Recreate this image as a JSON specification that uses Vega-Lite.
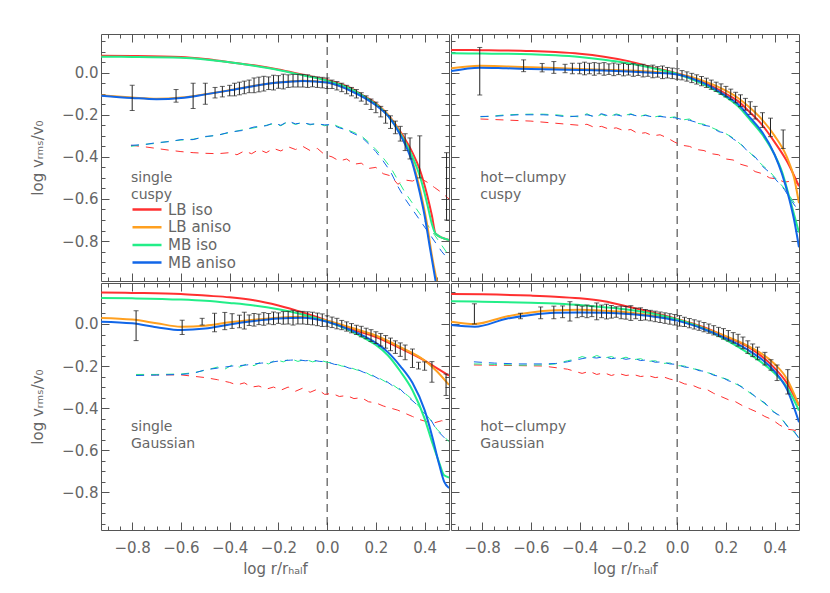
{
"$schema": "https://vega.github.io/schema/vega-lite/v6.json",
"background": "white",
"padding": {"left": 30, "top": 33, "right": 0, "bottom": 0},
"columns": 2,
"spacing": 0,
"resolve": {"scale": {"color": "independent"}, "legend": {"color": "independent"}},
"config": {
  "view": {"stroke": "#555", "strokeWidth": 1},
  "axis": {"grid": false, "domain": false, "tickColor": "#555", "tickWidth": 1, "labelColor": "#666", "titleColor": "#666", "labelFont": "DejaVu Sans", "titleFont": "DejaVu Sans", "labelFontSize": 15, "titleFontSize": 15, "titleFontWeight": "normal"}
},
"datasets": {
"labels": [{"p":"sc","t":"single\ncuspy"},{"p":"hc","t":"hot−clumpy\ncuspy"},{"p":"sg","t":"single\nGaussian"},{"p":"hg","t":"hot−clumpy\nGaussian"}],
"solid": [
{"p":"sc","m":"LB iso","x":-0.927,"y":0.081},{"p":"sc","m":"LB iso","x":-0.8,"y":0.08},{"p":"sc","m":"LB iso","x":-0.6,"y":0.075},{"p":"sc","m":"LB iso","x":-0.5,"y":0.065},{"p":"sc","m":"LB iso","x":-0.4,"y":0.05},{"p":"sc","m":"LB iso","x":-0.3,"y":0.035},{"p":"sc","m":"LB iso","x":-0.2,"y":0.015},{"p":"sc","m":"LB iso","x":-0.1,"y":-0.01},{"p":"sc","m":"LB iso","x":0,"y":-0.035},{"p":"sc","m":"LB iso","x":0.1,"y":-0.075},{"p":"sc","m":"LB iso","x":0.15,"y":-0.11},{"p":"sc","m":"LB iso","x":0.2,"y":-0.145},{"p":"sc","m":"LB iso","x":0.25,"y":-0.2},{"p":"sc","m":"LB iso","x":0.3,"y":-0.28},{"p":"sc","m":"LB iso","x":0.35,"y":-0.38},{"p":"sc","m":"LB iso","x":0.38,"y":-0.46},{"p":"sc","m":"LB iso","x":0.41,"y":-0.58},{"p":"sc","m":"LB iso","x":0.43,"y":-0.68},{"p":"sc","m":"LB iso","x":0.445,"y":-0.765},{"p":"sc","m":"LB iso","x":0.5,"y":-0.795},
{"p":"sc","m":"LB aniso","x":-0.927,"y":-0.108},{"p":"sc","m":"LB aniso","x":-0.8,"y":-0.118},{"p":"sc","m":"LB aniso","x":-0.7,"y":-0.124},{"p":"sc","m":"LB aniso","x":-0.6,"y":-0.118},{"p":"sc","m":"LB aniso","x":-0.5,"y":-0.102},{"p":"sc","m":"LB aniso","x":-0.4,"y":-0.083},{"p":"sc","m":"LB aniso","x":-0.3,"y":-0.062},{"p":"sc","m":"LB aniso","x":-0.2,"y":-0.046},{"p":"sc","m":"LB aniso","x":-0.1,"y":-0.038},{"p":"sc","m":"LB aniso","x":0,"y":-0.046},{"p":"sc","m":"LB aniso","x":0.1,"y":-0.085},{"p":"sc","m":"LB aniso","x":0.2,"y":-0.15},{"p":"sc","m":"LB aniso","x":0.25,"y":-0.2},{"p":"sc","m":"LB aniso","x":0.3,"y":-0.285},{"p":"sc","m":"LB aniso","x":0.35,"y":-0.42},{"p":"sc","m":"LB aniso","x":0.38,"y":-0.55},{"p":"sc","m":"LB aniso","x":0.41,"y":-0.72},{"p":"sc","m":"LB aniso","x":0.43,"y":-0.87},{"p":"sc","m":"LB aniso","x":0.45,"y":-0.99},
{"p":"sc","m":"MB iso","x":-0.927,"y":0.076},{"p":"sc","m":"MB iso","x":-0.8,"y":0.075},{"p":"sc","m":"MB iso","x":-0.6,"y":0.071},{"p":"sc","m":"MB iso","x":-0.5,"y":0.063},{"p":"sc","m":"MB iso","x":-0.4,"y":0.05},{"p":"sc","m":"MB iso","x":-0.3,"y":0.033},{"p":"sc","m":"MB iso","x":-0.2,"y":0.013},{"p":"sc","m":"MB iso","x":-0.1,"y":-0.012},{"p":"sc","m":"MB iso","x":0,"y":-0.038},{"p":"sc","m":"MB iso","x":0.1,"y":-0.078},{"p":"sc","m":"MB iso","x":0.15,"y":-0.112},{"p":"sc","m":"MB iso","x":0.2,"y":-0.15},{"p":"sc","m":"MB iso","x":0.25,"y":-0.205},{"p":"sc","m":"MB iso","x":0.3,"y":-0.29},{"p":"sc","m":"MB iso","x":0.35,"y":-0.4},{"p":"sc","m":"MB iso","x":0.38,"y":-0.49},{"p":"sc","m":"MB iso","x":0.41,"y":-0.62},{"p":"sc","m":"MB iso","x":0.43,"y":-0.72},{"p":"sc","m":"MB iso","x":0.445,"y":-0.765},{"p":"sc","m":"MB iso","x":0.5,"y":-0.795},
{"p":"sc","m":"MB aniso","x":-0.927,"y":-0.109},{"p":"sc","m":"MB aniso","x":-0.8,"y":-0.12},{"p":"sc","m":"MB aniso","x":-0.7,"y":-0.126},{"p":"sc","m":"MB aniso","x":-0.6,"y":-0.12},{"p":"sc","m":"MB aniso","x":-0.5,"y":-0.103},{"p":"sc","m":"MB aniso","x":-0.4,"y":-0.084},{"p":"sc","m":"MB aniso","x":-0.3,"y":-0.063},{"p":"sc","m":"MB aniso","x":-0.2,"y":-0.047},{"p":"sc","m":"MB aniso","x":-0.1,"y":-0.039},{"p":"sc","m":"MB aniso","x":0,"y":-0.047},{"p":"sc","m":"MB aniso","x":0.1,"y":-0.088},{"p":"sc","m":"MB aniso","x":0.2,"y":-0.155},{"p":"sc","m":"MB aniso","x":0.25,"y":-0.205},{"p":"sc","m":"MB aniso","x":0.3,"y":-0.295},{"p":"sc","m":"MB aniso","x":0.35,"y":-0.43},{"p":"sc","m":"MB aniso","x":0.38,"y":-0.57},{"p":"sc","m":"MB aniso","x":0.4,"y":-0.68},{"p":"sc","m":"MB aniso","x":0.42,"y":-0.82},{"p":"sc","m":"MB aniso","x":0.445,"y":-0.99},

{"p":"hc","m":"LB iso","x":-0.927,"y":0.108},{"p":"hc","m":"LB iso","x":-0.8,"y":0.107},{"p":"hc","m":"LB iso","x":-0.6,"y":0.103},{"p":"hc","m":"LB iso","x":-0.5,"y":0.098},{"p":"hc","m":"LB iso","x":-0.4,"y":0.09},{"p":"hc","m":"LB iso","x":-0.3,"y":0.076},{"p":"hc","m":"LB iso","x":-0.2,"y":0.055},{"p":"hc","m":"LB iso","x":-0.1,"y":0.025},{"p":"hc","m":"LB iso","x":0,"y":-0.003},{"p":"hc","m":"LB iso","x":0.1,"y":-0.04},{"p":"hc","m":"LB iso","x":0.2,"y":-0.1},{"p":"hc","m":"LB iso","x":0.25,"y":-0.135},{"p":"hc","m":"LB iso","x":0.3,"y":-0.19},{"p":"hc","m":"LB iso","x":0.35,"y":-0.25},{"p":"hc","m":"LB iso","x":0.4,"y":-0.33},{"p":"hc","m":"LB iso","x":0.45,"y":-0.42},{"p":"hc","m":"LB iso","x":0.5,"y":-0.54},
{"p":"hc","m":"LB aniso","x":-0.927,"y":0.021},{"p":"hc","m":"LB aniso","x":-0.81,"y":0.033},{"p":"hc","m":"LB aniso","x":-0.7,"y":0.03},{"p":"hc","m":"LB aniso","x":-0.6,"y":0.026},{"p":"hc","m":"LB aniso","x":-0.5,"y":0.022},{"p":"hc","m":"LB aniso","x":-0.4,"y":0.018},{"p":"hc","m":"LB aniso","x":-0.3,"y":0.014},{"p":"hc","m":"LB aniso","x":-0.2,"y":0.01},{"p":"hc","m":"LB aniso","x":-0.1,"y":0.004},{"p":"hc","m":"LB aniso","x":0,"y":-0.006},{"p":"hc","m":"LB aniso","x":0.1,"y":-0.035},{"p":"hc","m":"LB aniso","x":0.2,"y":-0.085},{"p":"hc","m":"LB aniso","x":0.25,"y":-0.12},{"p":"hc","m":"LB aniso","x":0.3,"y":-0.168},{"p":"hc","m":"LB aniso","x":0.35,"y":-0.225},{"p":"hc","m":"LB aniso","x":0.4,"y":-0.3},{"p":"hc","m":"LB aniso","x":0.45,"y":-0.4},{"p":"hc","m":"LB aniso","x":0.48,"y":-0.5},{"p":"hc","m":"LB aniso","x":0.5,"y":-0.62},
{"p":"hc","m":"MB iso","x":-0.927,"y":0.092},{"p":"hc","m":"MB iso","x":-0.8,"y":0.091},{"p":"hc","m":"MB iso","x":-0.6,"y":0.088},{"p":"hc","m":"MB iso","x":-0.5,"y":0.083},{"p":"hc","m":"MB iso","x":-0.4,"y":0.075},{"p":"hc","m":"MB iso","x":-0.3,"y":0.062},{"p":"hc","m":"MB iso","x":-0.2,"y":0.045},{"p":"hc","m":"MB iso","x":-0.1,"y":0.022},{"p":"hc","m":"MB iso","x":0,"y":-0.006},{"p":"hc","m":"MB iso","x":0.1,"y":-0.05},{"p":"hc","m":"MB iso","x":0.2,"y":-0.115},{"p":"hc","m":"MB iso","x":0.25,"y":-0.16},{"p":"hc","m":"MB iso","x":0.3,"y":-0.225},{"p":"hc","m":"MB iso","x":0.35,"y":-0.295},{"p":"hc","m":"MB iso","x":0.4,"y":-0.39},{"p":"hc","m":"MB iso","x":0.43,"y":-0.47},{"p":"hc","m":"MB iso","x":0.46,"y":-0.59},{"p":"hc","m":"MB iso","x":0.5,"y":-0.76},
{"p":"hc","m":"MB aniso","x":-0.927,"y":0.008},{"p":"hc","m":"MB aniso","x":-0.81,"y":0.024},{"p":"hc","m":"MB aniso","x":-0.7,"y":0.021},{"p":"hc","m":"MB aniso","x":-0.6,"y":0.018},{"p":"hc","m":"MB aniso","x":-0.5,"y":0.015},{"p":"hc","m":"MB aniso","x":-0.4,"y":0.013},{"p":"hc","m":"MB aniso","x":-0.3,"y":0.01},{"p":"hc","m":"MB aniso","x":-0.2,"y":0.006},{"p":"hc","m":"MB aniso","x":-0.1,"y":0.0},{"p":"hc","m":"MB aniso","x":0,"y":-0.008},{"p":"hc","m":"MB aniso","x":0.1,"y":-0.045},{"p":"hc","m":"MB aniso","x":0.2,"y":-0.11},{"p":"hc","m":"MB aniso","x":0.25,"y":-0.15},{"p":"hc","m":"MB aniso","x":0.3,"y":-0.215},{"p":"hc","m":"MB aniso","x":0.35,"y":-0.285},{"p":"hc","m":"MB aniso","x":0.4,"y":-0.39},{"p":"hc","m":"MB aniso","x":0.43,"y":-0.48},{"p":"hc","m":"MB aniso","x":0.46,"y":-0.6},{"p":"hc","m":"MB aniso","x":0.48,"y":-0.7},{"p":"hc","m":"MB aniso","x":0.5,"y":-0.83},

{"p":"sg","m":"LB iso","x":-0.927,"y":0.15},{"p":"sg","m":"LB iso","x":-0.8,"y":0.148},{"p":"sg","m":"LB iso","x":-0.6,"y":0.143},{"p":"sg","m":"LB iso","x":-0.5,"y":0.135},{"p":"sg","m":"LB iso","x":-0.4,"y":0.127},{"p":"sg","m":"LB iso","x":-0.3,"y":0.113},{"p":"sg","m":"LB iso","x":-0.2,"y":0.088},{"p":"sg","m":"LB iso","x":-0.1,"y":0.055},{"p":"sg","m":"LB iso","x":0,"y":0.016},{"p":"sg","m":"LB iso","x":0.1,"y":-0.025},{"p":"sg","m":"LB iso","x":0.2,"y":-0.062},{"p":"sg","m":"LB iso","x":0.3,"y":-0.115},{"p":"sg","m":"LB iso","x":0.4,"y":-0.174},{"p":"sg","m":"LB iso","x":0.45,"y":-0.21},{"p":"sg","m":"LB iso","x":0.5,"y":-0.246},
{"p":"sg","m":"LB aniso","x":-0.927,"y":0.029},{"p":"sg","m":"LB aniso","x":-0.8,"y":0.021},{"p":"sg","m":"LB aniso","x":-0.7,"y":0.004},{"p":"sg","m":"LB aniso","x":-0.6,"y":-0.013},{"p":"sg","m":"LB aniso","x":-0.5,"y":-0.008},{"p":"sg","m":"LB aniso","x":-0.4,"y":0.008},{"p":"sg","m":"LB aniso","x":-0.3,"y":0.02},{"p":"sg","m":"LB aniso","x":-0.2,"y":0.03},{"p":"sg","m":"LB aniso","x":-0.1,"y":0.035},{"p":"sg","m":"LB aniso","x":0,"y":0.016},{"p":"sg","m":"LB aniso","x":0.1,"y":-0.018},{"p":"sg","m":"LB aniso","x":0.2,"y":-0.055},{"p":"sg","m":"LB aniso","x":0.3,"y":-0.11},{"p":"sg","m":"LB aniso","x":0.4,"y":-0.174},{"p":"sg","m":"LB aniso","x":0.45,"y":-0.225},{"p":"sg","m":"LB aniso","x":0.5,"y":-0.29},
{"p":"sg","m":"MB iso","x":-0.927,"y":0.124},{"p":"sg","m":"MB iso","x":-0.8,"y":0.122},{"p":"sg","m":"MB iso","x":-0.6,"y":0.116},{"p":"sg","m":"MB iso","x":-0.5,"y":0.11},{"p":"sg","m":"MB iso","x":-0.4,"y":0.1},{"p":"sg","m":"MB iso","x":-0.3,"y":0.088},{"p":"sg","m":"MB iso","x":-0.2,"y":0.07},{"p":"sg","m":"MB iso","x":-0.1,"y":0.045},{"p":"sg","m":"MB iso","x":0,"y":0.011},{"p":"sg","m":"MB iso","x":0.1,"y":-0.035},{"p":"sg","m":"MB iso","x":0.15,"y":-0.065},{"p":"sg","m":"MB iso","x":0.2,"y":-0.1},{"p":"sg","m":"MB iso","x":0.25,"y":-0.15},{"p":"sg","m":"MB iso","x":0.3,"y":-0.225},{"p":"sg","m":"MB iso","x":0.35,"y":-0.315},{"p":"sg","m":"MB iso","x":0.4,"y":-0.45},{"p":"sg","m":"MB iso","x":0.43,"y":-0.56},{"p":"sg","m":"MB iso","x":0.46,"y":-0.66},{"p":"sg","m":"MB iso","x":0.48,"y":-0.72},{"p":"sg","m":"MB iso","x":0.5,"y":-0.73},
{"p":"sg","m":"MB aniso","x":-0.927,"y":0.011},{"p":"sg","m":"MB aniso","x":-0.8,"y":0.003},{"p":"sg","m":"MB aniso","x":-0.7,"y":-0.015},{"p":"sg","m":"MB aniso","x":-0.6,"y":-0.029},{"p":"sg","m":"MB aniso","x":-0.5,"y":-0.022},{"p":"sg","m":"MB aniso","x":-0.4,"y":-0.002},{"p":"sg","m":"MB aniso","x":-0.3,"y":0.014},{"p":"sg","m":"MB aniso","x":-0.2,"y":0.026},{"p":"sg","m":"MB aniso","x":-0.1,"y":0.03},{"p":"sg","m":"MB aniso","x":0,"y":0.011},{"p":"sg","m":"MB aniso","x":0.1,"y":-0.03},{"p":"sg","m":"MB aniso","x":0.2,"y":-0.09},{"p":"sg","m":"MB aniso","x":0.25,"y":-0.135},{"p":"sg","m":"MB aniso","x":0.3,"y":-0.2},{"p":"sg","m":"MB aniso","x":0.35,"y":-0.28},{"p":"sg","m":"MB aniso","x":0.4,"y":-0.41},{"p":"sg","m":"MB aniso","x":0.43,"y":-0.53},{"p":"sg","m":"MB aniso","x":0.46,"y":-0.67},{"p":"sg","m":"MB aniso","x":0.48,"y":-0.75},{"p":"sg","m":"MB aniso","x":0.5,"y":-0.78},

{"p":"hg","m":"LB iso","x":-0.927,"y":0.143},{"p":"hg","m":"LB iso","x":-0.8,"y":0.141},{"p":"hg","m":"LB iso","x":-0.6,"y":0.135},{"p":"hg","m":"LB iso","x":-0.5,"y":0.13},{"p":"hg","m":"LB iso","x":-0.4,"y":0.122},{"p":"hg","m":"LB iso","x":-0.3,"y":0.108},{"p":"hg","m":"LB iso","x":-0.2,"y":0.082},{"p":"hg","m":"LB iso","x":-0.1,"y":0.055},{"p":"hg","m":"LB iso","x":0,"y":0.024},{"p":"hg","m":"LB iso","x":0.1,"y":-0.012},{"p":"hg","m":"LB iso","x":0.2,"y":-0.06},{"p":"hg","m":"LB iso","x":0.3,"y":-0.115},{"p":"hg","m":"LB iso","x":0.4,"y":-0.21},{"p":"hg","m":"LB iso","x":0.45,"y":-0.28},{"p":"hg","m":"LB iso","x":0.5,"y":-0.388},
{"p":"hg","m":"LB aniso","x":-0.927,"y":0.011},{"p":"hg","m":"LB aniso","x":-0.83,"y":0.0},{"p":"hg","m":"LB aniso","x":-0.7,"y":0.036},{"p":"hg","m":"LB aniso","x":-0.6,"y":0.055},{"p":"hg","m":"LB aniso","x":-0.5,"y":0.065},{"p":"hg","m":"LB aniso","x":-0.4,"y":0.068},{"p":"hg","m":"LB aniso","x":-0.3,"y":0.063},{"p":"hg","m":"LB aniso","x":-0.2,"y":0.055},{"p":"hg","m":"LB aniso","x":-0.1,"y":0.04},{"p":"hg","m":"LB aniso","x":0,"y":0.021},{"p":"hg","m":"LB aniso","x":0.1,"y":-0.015},{"p":"hg","m":"LB aniso","x":0.2,"y":-0.058},{"p":"hg","m":"LB aniso","x":0.3,"y":-0.11},{"p":"hg","m":"LB aniso","x":0.4,"y":-0.19},{"p":"hg","m":"LB aniso","x":0.45,"y":-0.26},{"p":"hg","m":"LB aniso","x":0.5,"y":-0.388},
{"p":"hg","m":"MB iso","x":-0.927,"y":0.108},{"p":"hg","m":"MB iso","x":-0.8,"y":0.106},{"p":"hg","m":"MB iso","x":-0.6,"y":0.101},{"p":"hg","m":"MB iso","x":-0.5,"y":0.098},{"p":"hg","m":"MB iso","x":-0.4,"y":0.09},{"p":"hg","m":"MB iso","x":-0.3,"y":0.08},{"p":"hg","m":"MB iso","x":-0.2,"y":0.068},{"p":"hg","m":"MB iso","x":-0.1,"y":0.05},{"p":"hg","m":"MB iso","x":0,"y":0.021},{"p":"hg","m":"MB iso","x":0.1,"y":-0.018},{"p":"hg","m":"MB iso","x":0.2,"y":-0.075},{"p":"hg","m":"MB iso","x":0.3,"y":-0.145},{"p":"hg","m":"MB iso","x":0.4,"y":-0.235},{"p":"hg","m":"MB iso","x":0.45,"y":-0.3},{"p":"hg","m":"MB iso","x":0.5,"y":-0.412},
{"p":"hg","m":"MB aniso","x":-0.927,"y":-0.005},{"p":"hg","m":"MB aniso","x":-0.83,"y":-0.013},{"p":"hg","m":"MB aniso","x":-0.7,"y":0.025},{"p":"hg","m":"MB aniso","x":-0.6,"y":0.043},{"p":"hg","m":"MB aniso","x":-0.5,"y":0.053},{"p":"hg","m":"MB aniso","x":-0.4,"y":0.055},{"p":"hg","m":"MB aniso","x":-0.3,"y":0.053},{"p":"hg","m":"MB aniso","x":-0.2,"y":0.047},{"p":"hg","m":"MB aniso","x":-0.1,"y":0.036},{"p":"hg","m":"MB aniso","x":0,"y":0.016},{"p":"hg","m":"MB aniso","x":0.1,"y":-0.02},{"p":"hg","m":"MB aniso","x":0.2,"y":-0.068},{"p":"hg","m":"MB aniso","x":0.3,"y":-0.13},{"p":"hg","m":"MB aniso","x":0.4,"y":-0.225},{"p":"hg","m":"MB aniso","x":0.45,"y":-0.31},{"p":"hg","m":"MB aniso","x":0.5,"y":-0.467}
],
"dash": [
{"p":"sc","m":"LB iso","x":-0.805,"y":-0.345},{"p":"sc","m":"LB iso","x":-0.75,"y":-0.352},{"p":"sc","m":"LB iso","x":-0.7,"y":-0.36},{"p":"sc","m":"LB iso","x":-0.65,"y":-0.368},{"p":"sc","m":"LB iso","x":-0.6,"y":-0.375},{"p":"sc","m":"LB iso","x":-0.55,"y":-0.38},{"p":"sc","m":"LB iso","x":-0.5,"y":-0.383},{"p":"sc","m":"LB iso","x":-0.45,"y":-0.385},{"p":"sc","m":"LB iso","x":-0.4,"y":-0.38},{"p":"sc","m":"LB iso","x":-0.37,"y":-0.39},{"p":"sc","m":"LB iso","x":-0.34,"y":-0.372},{"p":"sc","m":"LB iso","x":-0.31,"y":-0.385},{"p":"sc","m":"LB iso","x":-0.28,"y":-0.365},{"p":"sc","m":"LB iso","x":-0.25,"y":-0.38},{"p":"sc","m":"LB iso","x":-0.22,"y":-0.36},{"p":"sc","m":"LB iso","x":-0.19,"y":-0.372},{"p":"sc","m":"LB iso","x":-0.16,"y":-0.352},{"p":"sc","m":"LB iso","x":-0.13,"y":-0.365},{"p":"sc","m":"LB iso","x":-0.1,"y":-0.35},{"p":"sc","m":"LB iso","x":-0.07,"y":-0.37},{"p":"sc","m":"LB iso","x":-0.04,"y":-0.36},{"p":"sc","m":"LB iso","x":-0.01,"y":-0.39},{"p":"sc","m":"LB iso","x":0.02,"y":-0.4},{"p":"sc","m":"LB iso","x":0.05,"y":-0.42},{"p":"sc","m":"LB iso","x":0.08,"y":-0.41},{"p":"sc","m":"LB iso","x":0.11,"y":-0.435},{"p":"sc","m":"LB iso","x":0.14,"y":-0.43},{"p":"sc","m":"LB iso","x":0.17,"y":-0.455},{"p":"sc","m":"LB iso","x":0.2,"y":-0.45},{"p":"sc","m":"LB iso","x":0.23,"y":-0.48},{"p":"sc","m":"LB iso","x":0.26,"y":-0.49},{"p":"sc","m":"LB iso","x":0.29,"y":-0.53},{"p":"sc","m":"LB iso","x":0.32,"y":-0.51},{"p":"sc","m":"LB iso","x":0.35,"y":-0.515},{"p":"sc","m":"LB iso","x":0.38,"y":-0.5},{"p":"sc","m":"LB iso","x":0.41,"y":-0.52},{"p":"sc","m":"LB iso","x":0.44,"y":-0.545},{"p":"sc","m":"LB iso","x":0.47,"y":-0.57},{"p":"sc","m":"LB iso","x":0.5,"y":-0.6},
{"p":"sc","m":"MB iso","x":-0.805,"y":-0.35},{"p":"sc","m":"MB iso","x":-0.75,"y":-0.34},{"p":"sc","m":"MB iso","x":-0.7,"y":-0.336},{"p":"sc","m":"MB iso","x":-0.65,"y":-0.326},{"p":"sc","m":"MB iso","x":-0.6,"y":-0.32},{"p":"sc","m":"MB iso","x":-0.55,"y":-0.316},{"p":"sc","m":"MB iso","x":-0.5,"y":-0.305},{"p":"sc","m":"MB iso","x":-0.45,"y":-0.296},{"p":"sc","m":"MB iso","x":-0.4,"y":-0.285},{"p":"sc","m":"MB iso","x":-0.35,"y":-0.272},{"p":"sc","m":"MB iso","x":-0.3,"y":-0.262},{"p":"sc","m":"MB iso","x":-0.25,"y":-0.25},{"p":"sc","m":"MB iso","x":-0.22,"y":-0.243},{"p":"sc","m":"MB iso","x":-0.19,"y":-0.252},{"p":"sc","m":"MB iso","x":-0.16,"y":-0.232},{"p":"sc","m":"MB iso","x":-0.13,"y":-0.246},{"p":"sc","m":"MB iso","x":-0.1,"y":-0.235},{"p":"sc","m":"MB iso","x":-0.07,"y":-0.248},{"p":"sc","m":"MB iso","x":-0.04,"y":-0.24},{"p":"sc","m":"MB iso","x":-0.01,"y":-0.252},{"p":"sc","m":"MB iso","x":0.02,"y":-0.243},{"p":"sc","m":"MB iso","x":0.05,"y":-0.258},{"p":"sc","m":"MB iso","x":0.08,"y":-0.27},{"p":"sc","m":"MB iso","x":0.11,"y":-0.284},{"p":"sc","m":"MB iso","x":0.14,"y":-0.3},{"p":"sc","m":"MB iso","x":0.17,"y":-0.33},{"p":"sc","m":"MB iso","x":0.2,"y":-0.365},{"p":"sc","m":"MB iso","x":0.23,"y":-0.405},{"p":"sc","m":"MB iso","x":0.26,"y":-0.45},{"p":"sc","m":"MB iso","x":0.29,"y":-0.51},{"p":"sc","m":"MB iso","x":0.32,"y":-0.57},{"p":"sc","m":"MB iso","x":0.35,"y":-0.62},{"p":"sc","m":"MB iso","x":0.38,"y":-0.67},{"p":"sc","m":"MB iso","x":0.41,"y":-0.72},{"p":"sc","m":"MB iso","x":0.44,"y":-0.77},{"p":"sc","m":"MB iso","x":0.47,"y":-0.82},{"p":"sc","m":"MB iso","x":0.5,"y":-0.87},
{"p":"sc","m":"MB aniso","x":-0.805,"y":-0.345},{"p":"sc","m":"MB aniso","x":-0.75,"y":-0.342},{"p":"sc","m":"MB aniso","x":-0.7,"y":-0.332},{"p":"sc","m":"MB aniso","x":-0.65,"y":-0.328},{"p":"sc","m":"MB aniso","x":-0.6,"y":-0.318},{"p":"sc","m":"MB aniso","x":-0.55,"y":-0.318},{"p":"sc","m":"MB aniso","x":-0.5,"y":-0.303},{"p":"sc","m":"MB aniso","x":-0.45,"y":-0.298},{"p":"sc","m":"MB aniso","x":-0.4,"y":-0.282},{"p":"sc","m":"MB aniso","x":-0.35,"y":-0.275},{"p":"sc","m":"MB aniso","x":-0.3,"y":-0.258},{"p":"sc","m":"MB aniso","x":-0.25,"y":-0.252},{"p":"sc","m":"MB aniso","x":-0.22,"y":-0.238},{"p":"sc","m":"MB aniso","x":-0.19,"y":-0.25},{"p":"sc","m":"MB aniso","x":-0.16,"y":-0.23},{"p":"sc","m":"MB aniso","x":-0.13,"y":-0.243},{"p":"sc","m":"MB aniso","x":-0.1,"y":-0.238},{"p":"sc","m":"MB aniso","x":-0.07,"y":-0.245},{"p":"sc","m":"MB aniso","x":-0.04,"y":-0.243},{"p":"sc","m":"MB aniso","x":-0.01,"y":-0.248},{"p":"sc","m":"MB aniso","x":0.02,"y":-0.247},{"p":"sc","m":"MB aniso","x":0.05,"y":-0.262},{"p":"sc","m":"MB aniso","x":0.08,"y":-0.272},{"p":"sc","m":"MB aniso","x":0.11,"y":-0.29},{"p":"sc","m":"MB aniso","x":0.14,"y":-0.305},{"p":"sc","m":"MB aniso","x":0.17,"y":-0.338},{"p":"sc","m":"MB aniso","x":0.2,"y":-0.375},{"p":"sc","m":"MB aniso","x":0.23,"y":-0.42},{"p":"sc","m":"MB aniso","x":0.26,"y":-0.47},{"p":"sc","m":"MB aniso","x":0.29,"y":-0.54},{"p":"sc","m":"MB aniso","x":0.32,"y":-0.6},{"p":"sc","m":"MB aniso","x":0.35,"y":-0.65},{"p":"sc","m":"MB aniso","x":0.38,"y":-0.7},{"p":"sc","m":"MB aniso","x":0.41,"y":-0.75},{"p":"sc","m":"MB aniso","x":0.44,"y":-0.8},{"p":"sc","m":"MB aniso","x":0.47,"y":-0.85},{"p":"sc","m":"MB aniso","x":0.5,"y":-0.89},

{"p":"hc","m":"LB iso","x":-0.807,"y":-0.22},{"p":"hc","m":"LB iso","x":-0.7,"y":-0.225},{"p":"hc","m":"LB iso","x":-0.6,"y":-0.23},{"p":"hc","m":"LB iso","x":-0.5,"y":-0.24},{"p":"hc","m":"LB iso","x":-0.45,"y":-0.245},{"p":"hc","m":"LB iso","x":-0.4,"y":-0.25},{"p":"hc","m":"LB iso","x":-0.37,"y":-0.245},{"p":"hc","m":"LB iso","x":-0.34,"y":-0.26},{"p":"hc","m":"LB iso","x":-0.31,"y":-0.255},{"p":"hc","m":"LB iso","x":-0.28,"y":-0.268},{"p":"hc","m":"LB iso","x":-0.25,"y":-0.262},{"p":"hc","m":"LB iso","x":-0.22,"y":-0.275},{"p":"hc","m":"LB iso","x":-0.19,"y":-0.27},{"p":"hc","m":"LB iso","x":-0.16,"y":-0.29},{"p":"hc","m":"LB iso","x":-0.13,"y":-0.285},{"p":"hc","m":"LB iso","x":-0.1,"y":-0.3},{"p":"hc","m":"LB iso","x":-0.07,"y":-0.295},{"p":"hc","m":"LB iso","x":-0.04,"y":-0.31},{"p":"hc","m":"LB iso","x":-0.01,"y":-0.33},{"p":"hc","m":"LB iso","x":0.02,"y":-0.345},{"p":"hc","m":"LB iso","x":0.05,"y":-0.35},{"p":"hc","m":"LB iso","x":0.08,"y":-0.365},{"p":"hc","m":"LB iso","x":0.11,"y":-0.37},{"p":"hc","m":"LB iso","x":0.14,"y":-0.385},{"p":"hc","m":"LB iso","x":0.17,"y":-0.39},{"p":"hc","m":"LB iso","x":0.2,"y":-0.41},{"p":"hc","m":"LB iso","x":0.23,"y":-0.415},{"p":"hc","m":"LB iso","x":0.26,"y":-0.435},{"p":"hc","m":"LB iso","x":0.29,"y":-0.445},{"p":"hc","m":"LB iso","x":0.32,"y":-0.47},{"p":"hc","m":"LB iso","x":0.35,"y":-0.48},{"p":"hc","m":"LB iso","x":0.38,"y":-0.5},{"p":"hc","m":"LB iso","x":0.41,"y":-0.505},{"p":"hc","m":"LB iso","x":0.44,"y":-0.52},{"p":"hc","m":"LB iso","x":0.47,"y":-0.515},{"p":"hc","m":"LB iso","x":0.5,"y":-0.53},
{"p":"hc","m":"MB iso","x":-0.807,"y":-0.21},{"p":"hc","m":"MB iso","x":-0.75,"y":-0.205},{"p":"hc","m":"MB iso","x":-0.7,"y":-0.2},{"p":"hc","m":"MB iso","x":-0.65,"y":-0.198},{"p":"hc","m":"MB iso","x":-0.6,"y":-0.197},{"p":"hc","m":"MB iso","x":-0.55,"y":-0.197},{"p":"hc","m":"MB iso","x":-0.5,"y":-0.2},{"p":"hc","m":"MB iso","x":-0.45,"y":-0.205},{"p":"hc","m":"MB iso","x":-0.4,"y":-0.21},{"p":"hc","m":"MB iso","x":-0.37,"y":-0.195},{"p":"hc","m":"MB iso","x":-0.34,"y":-0.212},{"p":"hc","m":"MB iso","x":-0.31,"y":-0.198},{"p":"hc","m":"MB iso","x":-0.28,"y":-0.21},{"p":"hc","m":"MB iso","x":-0.25,"y":-0.196},{"p":"hc","m":"MB iso","x":-0.22,"y":-0.205},{"p":"hc","m":"MB iso","x":-0.19,"y":-0.195},{"p":"hc","m":"MB iso","x":-0.16,"y":-0.21},{"p":"hc","m":"MB iso","x":-0.13,"y":-0.2},{"p":"hc","m":"MB iso","x":-0.1,"y":-0.212},{"p":"hc","m":"MB iso","x":-0.07,"y":-0.205},{"p":"hc","m":"MB iso","x":-0.04,"y":-0.215},{"p":"hc","m":"MB iso","x":-0.01,"y":-0.21},{"p":"hc","m":"MB iso","x":0.02,"y":-0.225},{"p":"hc","m":"MB iso","x":0.05,"y":-0.22},{"p":"hc","m":"MB iso","x":0.08,"y":-0.24},{"p":"hc","m":"MB iso","x":0.11,"y":-0.245},{"p":"hc","m":"MB iso","x":0.14,"y":-0.26},{"p":"hc","m":"MB iso","x":0.17,"y":-0.275},{"p":"hc","m":"MB iso","x":0.2,"y":-0.29},{"p":"hc","m":"MB iso","x":0.23,"y":-0.31},{"p":"hc","m":"MB iso","x":0.26,"y":-0.34},{"p":"hc","m":"MB iso","x":0.29,"y":-0.37},{"p":"hc","m":"MB iso","x":0.32,"y":-0.405},{"p":"hc","m":"MB iso","x":0.35,"y":-0.44},{"p":"hc","m":"MB iso","x":0.38,"y":-0.47},{"p":"hc","m":"MB iso","x":0.41,"y":-0.51},{"p":"hc","m":"MB iso","x":0.44,"y":-0.55},{"p":"hc","m":"MB iso","x":0.47,"y":-0.6},{"p":"hc","m":"MB iso","x":0.5,"y":-0.65},
{"p":"hc","m":"MB aniso","x":-0.807,"y":-0.208},{"p":"hc","m":"MB aniso","x":-0.75,"y":-0.207},{"p":"hc","m":"MB aniso","x":-0.7,"y":-0.203},{"p":"hc","m":"MB aniso","x":-0.65,"y":-0.2},{"p":"hc","m":"MB aniso","x":-0.6,"y":-0.2},{"p":"hc","m":"MB aniso","x":-0.55,"y":-0.2},{"p":"hc","m":"MB aniso","x":-0.5,"y":-0.203},{"p":"hc","m":"MB aniso","x":-0.45,"y":-0.21},{"p":"hc","m":"MB aniso","x":-0.4,"y":-0.205},{"p":"hc","m":"MB aniso","x":-0.37,"y":-0.2},{"p":"hc","m":"MB aniso","x":-0.34,"y":-0.208},{"p":"hc","m":"MB aniso","x":-0.31,"y":-0.195},{"p":"hc","m":"MB aniso","x":-0.28,"y":-0.206},{"p":"hc","m":"MB aniso","x":-0.25,"y":-0.2},{"p":"hc","m":"MB aniso","x":-0.22,"y":-0.208},{"p":"hc","m":"MB aniso","x":-0.19,"y":-0.198},{"p":"hc","m":"MB aniso","x":-0.16,"y":-0.207},{"p":"hc","m":"MB aniso","x":-0.13,"y":-0.203},{"p":"hc","m":"MB aniso","x":-0.1,"y":-0.21},{"p":"hc","m":"MB aniso","x":-0.07,"y":-0.208},{"p":"hc","m":"MB aniso","x":-0.04,"y":-0.212},{"p":"hc","m":"MB aniso","x":-0.01,"y":-0.214},{"p":"hc","m":"MB aniso","x":0.02,"y":-0.222},{"p":"hc","m":"MB aniso","x":0.05,"y":-0.226},{"p":"hc","m":"MB aniso","x":0.08,"y":-0.236},{"p":"hc","m":"MB aniso","x":0.11,"y":-0.25},{"p":"hc","m":"MB aniso","x":0.14,"y":-0.256},{"p":"hc","m":"MB aniso","x":0.17,"y":-0.28},{"p":"hc","m":"MB aniso","x":0.2,"y":-0.287},{"p":"hc","m":"MB aniso","x":0.23,"y":-0.315},{"p":"hc","m":"MB aniso","x":0.26,"y":-0.336},{"p":"hc","m":"MB aniso","x":0.29,"y":-0.375},{"p":"hc","m":"MB aniso","x":0.32,"y":-0.4},{"p":"hc","m":"MB aniso","x":0.35,"y":-0.445},{"p":"hc","m":"MB aniso","x":0.38,"y":-0.475},{"p":"hc","m":"MB aniso","x":0.41,"y":-0.515},{"p":"hc","m":"MB aniso","x":0.44,"y":-0.555},{"p":"hc","m":"MB aniso","x":0.47,"y":-0.61},{"p":"hc","m":"MB aniso","x":0.5,"y":-0.66},

{"p":"sg","m":"LB iso","x":-0.784,"y":-0.242},{"p":"sg","m":"LB iso","x":-0.7,"y":-0.242},{"p":"sg","m":"LB iso","x":-0.6,"y":-0.242},{"p":"sg","m":"LB iso","x":-0.5,"y":-0.255},{"p":"sg","m":"LB iso","x":-0.45,"y":-0.265},{"p":"sg","m":"LB iso","x":-0.4,"y":-0.278},{"p":"sg","m":"LB iso","x":-0.37,"y":-0.29},{"p":"sg","m":"LB iso","x":-0.34,"y":-0.28},{"p":"sg","m":"LB iso","x":-0.31,"y":-0.3},{"p":"sg","m":"LB iso","x":-0.28,"y":-0.295},{"p":"sg","m":"LB iso","x":-0.25,"y":-0.31},{"p":"sg","m":"LB iso","x":-0.22,"y":-0.3},{"p":"sg","m":"LB iso","x":-0.19,"y":-0.315},{"p":"sg","m":"LB iso","x":-0.16,"y":-0.3},{"p":"sg","m":"LB iso","x":-0.13,"y":-0.32},{"p":"sg","m":"LB iso","x":-0.1,"y":-0.305},{"p":"sg","m":"LB iso","x":-0.07,"y":-0.325},{"p":"sg","m":"LB iso","x":-0.04,"y":-0.31},{"p":"sg","m":"LB iso","x":-0.01,"y":-0.335},{"p":"sg","m":"LB iso","x":0.02,"y":-0.33},{"p":"sg","m":"LB iso","x":0.05,"y":-0.345},{"p":"sg","m":"LB iso","x":0.08,"y":-0.34},{"p":"sg","m":"LB iso","x":0.11,"y":-0.355},{"p":"sg","m":"LB iso","x":0.14,"y":-0.35},{"p":"sg","m":"LB iso","x":0.17,"y":-0.37},{"p":"sg","m":"LB iso","x":0.2,"y":-0.375},{"p":"sg","m":"LB iso","x":0.23,"y":-0.39},{"p":"sg","m":"LB iso","x":0.26,"y":-0.4},{"p":"sg","m":"LB iso","x":0.29,"y":-0.41},{"p":"sg","m":"LB iso","x":0.32,"y":-0.425},{"p":"sg","m":"LB iso","x":0.35,"y":-0.44},{"p":"sg","m":"LB iso","x":0.38,"y":-0.455},{"p":"sg","m":"LB iso","x":0.41,"y":-0.465},{"p":"sg","m":"LB iso","x":0.44,"y":-0.47},{"p":"sg","m":"LB iso","x":0.47,"y":-0.46},{"p":"sg","m":"LB iso","x":0.5,"y":-0.47},
{"p":"sg","m":"MB iso","x":-0.784,"y":-0.24},{"p":"sg","m":"MB iso","x":-0.7,"y":-0.24},{"p":"sg","m":"MB iso","x":-0.6,"y":-0.238},{"p":"sg","m":"MB iso","x":-0.55,"y":-0.232},{"p":"sg","m":"MB iso","x":-0.5,"y":-0.22},{"p":"sg","m":"MB iso","x":-0.45,"y":-0.205},{"p":"sg","m":"MB iso","x":-0.42,"y":-0.215},{"p":"sg","m":"MB iso","x":-0.39,"y":-0.195},{"p":"sg","m":"MB iso","x":-0.36,"y":-0.205},{"p":"sg","m":"MB iso","x":-0.33,"y":-0.19},{"p":"sg","m":"MB iso","x":-0.3,"y":-0.198},{"p":"sg","m":"MB iso","x":-0.27,"y":-0.18},{"p":"sg","m":"MB iso","x":-0.24,"y":-0.19},{"p":"sg","m":"MB iso","x":-0.21,"y":-0.17},{"p":"sg","m":"MB iso","x":-0.18,"y":-0.18},{"p":"sg","m":"MB iso","x":-0.15,"y":-0.165},{"p":"sg","m":"MB iso","x":-0.12,"y":-0.178},{"p":"sg","m":"MB iso","x":-0.09,"y":-0.168},{"p":"sg","m":"MB iso","x":-0.06,"y":-0.18},{"p":"sg","m":"MB iso","x":-0.03,"y":-0.172},{"p":"sg","m":"MB iso","x":0,"y":-0.182},{"p":"sg","m":"MB iso","x":0.03,"y":-0.188},{"p":"sg","m":"MB iso","x":0.06,"y":-0.2},{"p":"sg","m":"MB iso","x":0.09,"y":-0.205},{"p":"sg","m":"MB iso","x":0.12,"y":-0.218},{"p":"sg","m":"MB iso","x":0.15,"y":-0.225},{"p":"sg","m":"MB iso","x":0.18,"y":-0.245},{"p":"sg","m":"MB iso","x":0.21,"y":-0.255},{"p":"sg","m":"MB iso","x":0.24,"y":-0.275},{"p":"sg","m":"MB iso","x":0.27,"y":-0.29},{"p":"sg","m":"MB iso","x":0.3,"y":-0.315},{"p":"sg","m":"MB iso","x":0.33,"y":-0.34},{"p":"sg","m":"MB iso","x":0.36,"y":-0.37},{"p":"sg","m":"MB iso","x":0.39,"y":-0.41},{"p":"sg","m":"MB iso","x":0.42,"y":-0.45},{"p":"sg","m":"MB iso","x":0.45,"y":-0.5},{"p":"sg","m":"MB iso","x":0.48,"y":-0.535},{"p":"sg","m":"MB iso","x":0.5,"y":-0.56},
{"p":"sg","m":"MB aniso","x":-0.784,"y":-0.245},{"p":"sg","m":"MB aniso","x":-0.7,"y":-0.243},{"p":"sg","m":"MB aniso","x":-0.6,"y":-0.24},{"p":"sg","m":"MB aniso","x":-0.55,"y":-0.235},{"p":"sg","m":"MB aniso","x":-0.5,"y":-0.218},{"p":"sg","m":"MB aniso","x":-0.45,"y":-0.21},{"p":"sg","m":"MB aniso","x":-0.42,"y":-0.205},{"p":"sg","m":"MB aniso","x":-0.39,"y":-0.2},{"p":"sg","m":"MB aniso","x":-0.36,"y":-0.198},{"p":"sg","m":"MB aniso","x":-0.33,"y":-0.195},{"p":"sg","m":"MB aniso","x":-0.3,"y":-0.19},{"p":"sg","m":"MB aniso","x":-0.27,"y":-0.186},{"p":"sg","m":"MB aniso","x":-0.24,"y":-0.184},{"p":"sg","m":"MB aniso","x":-0.21,"y":-0.178},{"p":"sg","m":"MB aniso","x":-0.18,"y":-0.174},{"p":"sg","m":"MB aniso","x":-0.15,"y":-0.172},{"p":"sg","m":"MB aniso","x":-0.12,"y":-0.17},{"p":"sg","m":"MB aniso","x":-0.09,"y":-0.175},{"p":"sg","m":"MB aniso","x":-0.06,"y":-0.172},{"p":"sg","m":"MB aniso","x":-0.03,"y":-0.178},{"p":"sg","m":"MB aniso","x":0,"y":-0.18},{"p":"sg","m":"MB aniso","x":0.03,"y":-0.192},{"p":"sg","m":"MB aniso","x":0.06,"y":-0.196},{"p":"sg","m":"MB aniso","x":0.09,"y":-0.21},{"p":"sg","m":"MB aniso","x":0.12,"y":-0.214},{"p":"sg","m":"MB aniso","x":0.15,"y":-0.23},{"p":"sg","m":"MB aniso","x":0.18,"y":-0.24},{"p":"sg","m":"MB aniso","x":0.21,"y":-0.26},{"p":"sg","m":"MB aniso","x":0.24,"y":-0.27},{"p":"sg","m":"MB aniso","x":0.27,"y":-0.295},{"p":"sg","m":"MB aniso","x":0.3,"y":-0.31},{"p":"sg","m":"MB aniso","x":0.33,"y":-0.345},{"p":"sg","m":"MB aniso","x":0.36,"y":-0.375},{"p":"sg","m":"MB aniso","x":0.39,"y":-0.415},{"p":"sg","m":"MB aniso","x":0.42,"y":-0.445},{"p":"sg","m":"MB aniso","x":0.45,"y":-0.505},{"p":"sg","m":"MB aniso","x":0.48,"y":-0.54},{"p":"sg","m":"MB aniso","x":0.5,"y":-0.565},

{"p":"hg","m":"LB iso","x":-0.834,"y":-0.195},{"p":"hg","m":"LB iso","x":-0.75,"y":-0.196},{"p":"hg","m":"LB iso","x":-0.65,"y":-0.198},{"p":"hg","m":"LB iso","x":-0.55,"y":-0.2},{"p":"hg","m":"LB iso","x":-0.45,"y":-0.215},{"p":"hg","m":"LB iso","x":-0.42,"y":-0.225},{"p":"hg","m":"LB iso","x":-0.39,"y":-0.235},{"p":"hg","m":"LB iso","x":-0.36,"y":-0.225},{"p":"hg","m":"LB iso","x":-0.33,"y":-0.24},{"p":"hg","m":"LB iso","x":-0.3,"y":-0.232},{"p":"hg","m":"LB iso","x":-0.27,"y":-0.245},{"p":"hg","m":"LB iso","x":-0.24,"y":-0.235},{"p":"hg","m":"LB iso","x":-0.21,"y":-0.245},{"p":"hg","m":"LB iso","x":-0.18,"y":-0.24},{"p":"hg","m":"LB iso","x":-0.15,"y":-0.25},{"p":"hg","m":"LB iso","x":-0.12,"y":-0.245},{"p":"hg","m":"LB iso","x":-0.09,"y":-0.255},{"p":"hg","m":"LB iso","x":-0.06,"y":-0.25},{"p":"hg","m":"LB iso","x":-0.03,"y":-0.262},{"p":"hg","m":"LB iso","x":0,"y":-0.27},{"p":"hg","m":"LB iso","x":0.03,"y":-0.285},{"p":"hg","m":"LB iso","x":0.06,"y":-0.29},{"p":"hg","m":"LB iso","x":0.09,"y":-0.305},{"p":"hg","m":"LB iso","x":0.12,"y":-0.31},{"p":"hg","m":"LB iso","x":0.15,"y":-0.33},{"p":"hg","m":"LB iso","x":0.18,"y":-0.345},{"p":"hg","m":"LB iso","x":0.21,"y":-0.36},{"p":"hg","m":"LB iso","x":0.24,"y":-0.37},{"p":"hg","m":"LB iso","x":0.27,"y":-0.39},{"p":"hg","m":"LB iso","x":0.3,"y":-0.405},{"p":"hg","m":"LB iso","x":0.33,"y":-0.42},{"p":"hg","m":"LB iso","x":0.36,"y":-0.44},{"p":"hg","m":"LB iso","x":0.39,"y":-0.455},{"p":"hg","m":"LB iso","x":0.42,"y":-0.48},{"p":"hg","m":"LB iso","x":0.45,"y":-0.5},{"p":"hg","m":"LB iso","x":0.48,"y":-0.505},{"p":"hg","m":"LB iso","x":0.5,"y":-0.515},
{"p":"hg","m":"MB iso","x":-0.834,"y":-0.19},{"p":"hg","m":"MB iso","x":-0.75,"y":-0.192},{"p":"hg","m":"MB iso","x":-0.65,"y":-0.196},{"p":"hg","m":"MB iso","x":-0.55,"y":-0.195},{"p":"hg","m":"MB iso","x":-0.5,"y":-0.19},{"p":"hg","m":"MB iso","x":-0.45,"y":-0.175},{"p":"hg","m":"MB iso","x":-0.42,"y":-0.168},{"p":"hg","m":"MB iso","x":-0.39,"y":-0.155},{"p":"hg","m":"MB iso","x":-0.36,"y":-0.165},{"p":"hg","m":"MB iso","x":-0.33,"y":-0.15},{"p":"hg","m":"MB iso","x":-0.3,"y":-0.162},{"p":"hg","m":"MB iso","x":-0.27,"y":-0.155},{"p":"hg","m":"MB iso","x":-0.24,"y":-0.168},{"p":"hg","m":"MB iso","x":-0.21,"y":-0.158},{"p":"hg","m":"MB iso","x":-0.18,"y":-0.17},{"p":"hg","m":"MB iso","x":-0.15,"y":-0.165},{"p":"hg","m":"MB iso","x":-0.12,"y":-0.178},{"p":"hg","m":"MB iso","x":-0.09,"y":-0.175},{"p":"hg","m":"MB iso","x":-0.06,"y":-0.188},{"p":"hg","m":"MB iso","x":-0.03,"y":-0.185},{"p":"hg","m":"MB iso","x":0,"y":-0.198},{"p":"hg","m":"MB iso","x":0.03,"y":-0.2},{"p":"hg","m":"MB iso","x":0.06,"y":-0.212},{"p":"hg","m":"MB iso","x":0.09,"y":-0.218},{"p":"hg","m":"MB iso","x":0.12,"y":-0.23},{"p":"hg","m":"MB iso","x":0.15,"y":-0.24},{"p":"hg","m":"MB iso","x":0.18,"y":-0.255},{"p":"hg","m":"MB iso","x":0.21,"y":-0.265},{"p":"hg","m":"MB iso","x":0.24,"y":-0.285},{"p":"hg","m":"MB iso","x":0.27,"y":-0.3},{"p":"hg","m":"MB iso","x":0.3,"y":-0.33},{"p":"hg","m":"MB iso","x":0.33,"y":-0.35},{"p":"hg","m":"MB iso","x":0.36,"y":-0.38},{"p":"hg","m":"MB iso","x":0.39,"y":-0.41},{"p":"hg","m":"MB iso","x":0.42,"y":-0.44},{"p":"hg","m":"MB iso","x":0.45,"y":-0.48},{"p":"hg","m":"MB iso","x":0.48,"y":-0.515},{"p":"hg","m":"MB iso","x":0.5,"y":-0.54},
{"p":"hg","m":"MB aniso","x":-0.834,"y":-0.18},{"p":"hg","m":"MB aniso","x":-0.75,"y":-0.186},{"p":"hg","m":"MB aniso","x":-0.65,"y":-0.19},{"p":"hg","m":"MB aniso","x":-0.55,"y":-0.19},{"p":"hg","m":"MB aniso","x":-0.5,"y":-0.188},{"p":"hg","m":"MB aniso","x":-0.45,"y":-0.18},{"p":"hg","m":"MB aniso","x":-0.42,"y":-0.172},{"p":"hg","m":"MB aniso","x":-0.39,"y":-0.165},{"p":"hg","m":"MB aniso","x":-0.36,"y":-0.158},{"p":"hg","m":"MB aniso","x":-0.33,"y":-0.162},{"p":"hg","m":"MB aniso","x":-0.3,"y":-0.155},{"p":"hg","m":"MB aniso","x":-0.27,"y":-0.165},{"p":"hg","m":"MB aniso","x":-0.24,"y":-0.16},{"p":"hg","m":"MB aniso","x":-0.21,"y":-0.168},{"p":"hg","m":"MB aniso","x":-0.18,"y":-0.162},{"p":"hg","m":"MB aniso","x":-0.15,"y":-0.174},{"p":"hg","m":"MB aniso","x":-0.12,"y":-0.17},{"p":"hg","m":"MB aniso","x":-0.09,"y":-0.182},{"p":"hg","m":"MB aniso","x":-0.06,"y":-0.18},{"p":"hg","m":"MB aniso","x":-0.03,"y":-0.19},{"p":"hg","m":"MB aniso","x":0,"y":-0.192},{"p":"hg","m":"MB aniso","x":0.03,"y":-0.205},{"p":"hg","m":"MB aniso","x":0.06,"y":-0.208},{"p":"hg","m":"MB aniso","x":0.09,"y":-0.222},{"p":"hg","m":"MB aniso","x":0.12,"y":-0.226},{"p":"hg","m":"MB aniso","x":0.15,"y":-0.244},{"p":"hg","m":"MB aniso","x":0.18,"y":-0.25},{"p":"hg","m":"MB aniso","x":0.21,"y":-0.27},{"p":"hg","m":"MB aniso","x":0.24,"y":-0.28},{"p":"hg","m":"MB aniso","x":0.27,"y":-0.305},{"p":"hg","m":"MB aniso","x":0.3,"y":-0.325},{"p":"hg","m":"MB aniso","x":0.33,"y":-0.355},{"p":"hg","m":"MB aniso","x":0.36,"y":-0.375},{"p":"hg","m":"MB aniso","x":0.39,"y":-0.415},{"p":"hg","m":"MB aniso","x":0.42,"y":-0.435},{"p":"hg","m":"MB aniso","x":0.45,"y":-0.485},{"p":"hg","m":"MB aniso","x":0.48,"y":-0.51},{"p":"hg","m":"MB aniso","x":0.5,"y":-0.545}
],
"err": [
{"p":"sc","x":-0.8,"y":-0.12,"e":0.06},{"p":"sc","x":-0.62,"y":-0.11,"e":0.03},{"p":"sc","x":-0.55,"y":-0.11,"e":0.06},{"p":"sc","x":-0.5,"y":-0.1,"e":0.05},{"p":"sc","x":-0.46,"y":-0.095,"e":0.025},{"p":"sc","x":-0.43,"y":-0.09,"e":0.025},{"p":"sc","x":-0.4,"y":-0.085,"e":0.025},{"p":"sc","x":-0.38,"y":-0.08,"e":0.03},{"p":"sc","x":-0.36,"y":-0.075,"e":0.03},{"p":"sc","x":-0.34,"y":-0.07,"e":0.03},{"p":"sc","x":-0.32,"y":-0.065,"e":0.03},{"p":"sc","x":-0.3,"y":-0.06,"e":0.035},{"p":"sc","x":-0.28,"y":-0.056,"e":0.035},{"p":"sc","x":-0.26,"y":-0.052,"e":0.035},{"p":"sc","x":-0.24,"y":-0.05,"e":0.03},{"p":"sc","x":-0.22,"y":-0.047,"e":0.035},{"p":"sc","x":-0.2,"y":-0.044,"e":0.03},{"p":"sc","x":-0.18,"y":-0.042,"e":0.035},{"p":"sc","x":-0.16,"y":-0.04,"e":0.03},{"p":"sc","x":-0.14,"y":-0.038,"e":0.03},{"p":"sc","x":-0.12,"y":-0.038,"e":0.03},{"p":"sc","x":-0.1,"y":-0.038,"e":0.03},{"p":"sc","x":-0.08,"y":-0.04,"e":0.03},{"p":"sc","x":-0.06,"y":-0.042,"e":0.025},{"p":"sc","x":-0.04,"y":-0.045,"e":0.025},{"p":"sc","x":-0.02,"y":-0.047,"e":0.025},{"p":"sc","x":0,"y":-0.05,"e":0.025},{"p":"sc","x":0.02,"y":-0.055,"e":0.02},{"p":"sc","x":0.04,"y":-0.062,"e":0.02},{"p":"sc","x":0.06,"y":-0.07,"e":0.02},{"p":"sc","x":0.08,"y":-0.08,"e":0.02},{"p":"sc","x":0.1,"y":-0.09,"e":0.02},{"p":"sc","x":0.12,"y":-0.1,"e":0.02},{"p":"sc","x":0.14,"y":-0.115,"e":0.02},{"p":"sc","x":0.16,"y":-0.13,"e":0.02},{"p":"sc","x":0.18,"y":-0.15,"e":0.025},{"p":"sc","x":0.2,"y":-0.165,"e":0.025},{"p":"sc","x":0.22,"y":-0.185,"e":0.025},{"p":"sc","x":0.24,"y":-0.21,"e":0.03},{"p":"sc","x":0.26,"y":-0.235,"e":0.03},{"p":"sc","x":0.28,"y":-0.26,"e":0.03},{"p":"sc","x":0.3,"y":-0.29,"e":0.035},{"p":"sc","x":0.32,"y":-0.33,"e":0.04},{"p":"sc","x":0.34,"y":-0.36,"e":0.05},{"p":"sc","x":0.38,"y":-0.4,"e":0.1},{"p":"sc","x":0.49,"y":-0.54,"e":0.16},
{"p":"hc","x":-0.81,"y":0.007,"e":0.113},{"p":"hc","x":-0.63,"y":0.033,"e":0.028},{"p":"hc","x":-0.554,"y":0.024,"e":0.02},{"p":"hc","x":-0.506,"y":0.025,"e":0.028},{"p":"hc","x":-0.46,"y":0.02,"e":0.02},{"p":"hc","x":-0.43,"y":0.02,"e":0.025},{"p":"hc","x":-0.4,"y":0.02,"e":0.025},{"p":"hc","x":-0.38,"y":0.02,"e":0.03},{"p":"hc","x":-0.36,"y":0.02,"e":0.025},{"p":"hc","x":-0.34,"y":0.018,"e":0.03},{"p":"hc","x":-0.32,"y":0.02,"e":0.025},{"p":"hc","x":-0.3,"y":0.018,"e":0.03},{"p":"hc","x":-0.28,"y":0.017,"e":0.025},{"p":"hc","x":-0.26,"y":0.016,"e":0.03},{"p":"hc","x":-0.24,"y":0.016,"e":0.025},{"p":"hc","x":-0.22,"y":0.015,"e":0.03},{"p":"hc","x":-0.2,"y":0.014,"e":0.025},{"p":"hc","x":-0.18,"y":0.013,"e":0.03},{"p":"hc","x":-0.16,"y":0.012,"e":0.025},{"p":"hc","x":-0.14,"y":0.01,"e":0.03},{"p":"hc","x":-0.12,"y":0.008,"e":0.025},{"p":"hc","x":-0.1,"y":0.006,"e":0.03},{"p":"hc","x":-0.08,"y":0.004,"e":0.025},{"p":"hc","x":-0.06,"y":0.002,"e":0.03},{"p":"hc","x":-0.04,"y":0.0,"e":0.025},{"p":"hc","x":-0.02,"y":-0.003,"e":0.025},{"p":"hc","x":0,"y":-0.006,"e":0.025},{"p":"hc","x":0.02,"y":-0.012,"e":0.022},{"p":"hc","x":0.04,"y":-0.018,"e":0.022},{"p":"hc","x":0.06,"y":-0.025,"e":0.022},{"p":"hc","x":0.08,"y":-0.032,"e":0.022},{"p":"hc","x":0.1,"y":-0.04,"e":0.022},{"p":"hc","x":0.12,"y":-0.048,"e":0.022},{"p":"hc","x":0.14,"y":-0.057,"e":0.022},{"p":"hc","x":0.16,"y":-0.067,"e":0.022},{"p":"hc","x":0.18,"y":-0.078,"e":0.025},{"p":"hc","x":0.2,"y":-0.09,"e":0.025},{"p":"hc","x":0.22,"y":-0.103,"e":0.025},{"p":"hc","x":0.24,"y":-0.118,"e":0.025},{"p":"hc","x":0.26,"y":-0.133,"e":0.028},{"p":"hc","x":0.28,"y":-0.15,"e":0.028},{"p":"hc","x":0.3,"y":-0.168,"e":0.03},{"p":"hc","x":0.32,"y":-0.19,"e":0.03},{"p":"hc","x":0.35,"y":-0.225,"e":0.035},{"p":"hc","x":0.383,"y":-0.26,"e":0.044},{"p":"hc","x":0.435,"y":-0.316,"e":0.044},
{"p":"sg","x":-0.784,"y":-0.008,"e":0.071},{"p":"sg","x":-0.595,"y":-0.016,"e":0.034},{"p":"sg","x":-0.513,"y":0.011,"e":0.016},{"p":"sg","x":-0.462,"y":0.007,"e":0.044},{"p":"sg","x":-0.42,"y":0.014,"e":0.041},{"p":"sg","x":-0.39,"y":0.014,"e":0.035},{"p":"sg","x":-0.36,"y":0.012,"e":0.03},{"p":"sg","x":-0.34,"y":0.016,"e":0.04},{"p":"sg","x":-0.32,"y":0.018,"e":0.025},{"p":"sg","x":-0.3,"y":0.02,"e":0.03},{"p":"sg","x":-0.28,"y":0.022,"e":0.025},{"p":"sg","x":-0.26,"y":0.024,"e":0.03},{"p":"sg","x":-0.24,"y":0.025,"e":0.025},{"p":"sg","x":-0.22,"y":0.027,"e":0.03},{"p":"sg","x":-0.2,"y":0.028,"e":0.025},{"p":"sg","x":-0.18,"y":0.029,"e":0.03},{"p":"sg","x":-0.16,"y":0.03,"e":0.03},{"p":"sg","x":-0.14,"y":0.03,"e":0.035},{"p":"sg","x":-0.12,"y":0.03,"e":0.03},{"p":"sg","x":-0.1,"y":0.03,"e":0.03},{"p":"sg","x":-0.08,"y":0.028,"e":0.03},{"p":"sg","x":-0.06,"y":0.026,"e":0.03},{"p":"sg","x":-0.04,"y":0.022,"e":0.03},{"p":"sg","x":-0.02,"y":0.018,"e":0.03},{"p":"sg","x":0,"y":0.014,"e":0.025},{"p":"sg","x":0.02,"y":0.008,"e":0.025},{"p":"sg","x":0.04,"y":0.002,"e":0.025},{"p":"sg","x":0.06,"y":-0.005,"e":0.022},{"p":"sg","x":0.08,"y":-0.012,"e":0.022},{"p":"sg","x":0.1,"y":-0.02,"e":0.022},{"p":"sg","x":0.12,"y":-0.028,"e":0.022},{"p":"sg","x":0.14,"y":-0.036,"e":0.025},{"p":"sg","x":0.16,"y":-0.045,"e":0.025},{"p":"sg","x":0.18,"y":-0.055,"e":0.028},{"p":"sg","x":0.2,"y":-0.065,"e":0.028},{"p":"sg","x":0.22,"y":-0.075,"e":0.03},{"p":"sg","x":0.24,"y":-0.085,"e":0.03},{"p":"sg","x":0.26,"y":-0.097,"e":0.03},{"p":"sg","x":0.28,"y":-0.11,"e":0.03},{"p":"sg","x":0.3,"y":-0.122,"e":0.032},{"p":"sg","x":0.32,"y":-0.135,"e":0.035},{"p":"sg","x":0.35,"y":-0.163,"e":0.044},{"p":"sg","x":0.375,"y":-0.198,"e":0.016},{"p":"sg","x":0.4,"y":-0.2,"e":0.02},{"p":"sg","x":0.43,"y":-0.228,"e":0.049},{"p":"sg","x":0.488,"y":-0.289,"e":0.051},
{"p":"hg","x":-0.832,"y":0.048,"e":0.048},{"p":"hg","x":-0.643,"y":0.038,"e":0.013},{"p":"hg","x":-0.56,"y":0.053,"e":0.028},{"p":"hg","x":-0.506,"y":0.055,"e":0.03},{"p":"hg","x":-0.47,"y":0.058,"e":0.028},{"p":"hg","x":-0.44,"y":0.06,"e":0.046},{"p":"hg","x":-0.41,"y":0.06,"e":0.03},{"p":"hg","x":-0.39,"y":0.06,"e":0.025},{"p":"hg","x":-0.37,"y":0.06,"e":0.03},{"p":"hg","x":-0.35,"y":0.06,"e":0.025},{"p":"hg","x":-0.33,"y":0.06,"e":0.04},{"p":"hg","x":-0.31,"y":0.06,"e":0.03},{"p":"hg","x":-0.29,"y":0.059,"e":0.035},{"p":"hg","x":-0.27,"y":0.058,"e":0.03},{"p":"hg","x":-0.25,"y":0.057,"e":0.025},{"p":"hg","x":-0.23,"y":0.055,"e":0.03},{"p":"hg","x":-0.21,"y":0.053,"e":0.03},{"p":"hg","x":-0.19,"y":0.052,"e":0.035},{"p":"hg","x":-0.17,"y":0.05,"e":0.025},{"p":"hg","x":-0.15,"y":0.047,"e":0.03},{"p":"hg","x":-0.13,"y":0.044,"e":0.025},{"p":"hg","x":-0.11,"y":0.04,"e":0.025},{"p":"hg","x":-0.09,"y":0.036,"e":0.025},{"p":"hg","x":-0.07,"y":0.032,"e":0.025},{"p":"hg","x":-0.05,"y":0.028,"e":0.025},{"p":"hg","x":-0.03,"y":0.024,"e":0.025},{"p":"hg","x":-0.01,"y":0.02,"e":0.025},{"p":"hg","x":0.01,"y":0.015,"e":0.025},{"p":"hg","x":0.03,"y":0.01,"e":0.022},{"p":"hg","x":0.05,"y":0.004,"e":0.022},{"p":"hg","x":0.07,"y":-0.002,"e":0.022},{"p":"hg","x":0.09,"y":-0.008,"e":0.022},{"p":"hg","x":0.11,"y":-0.015,"e":0.022},{"p":"hg","x":0.13,"y":-0.022,"e":0.022},{"p":"hg","x":0.15,"y":-0.03,"e":0.022},{"p":"hg","x":0.17,"y":-0.038,"e":0.022},{"p":"hg","x":0.19,"y":-0.047,"e":0.025},{"p":"hg","x":0.21,"y":-0.056,"e":0.025},{"p":"hg","x":0.23,"y":-0.066,"e":0.025},{"p":"hg","x":0.25,"y":-0.077,"e":0.028},{"p":"hg","x":0.27,"y":-0.09,"e":0.028},{"p":"hg","x":0.29,"y":-0.11,"e":0.03},{"p":"hg","x":0.31,"y":-0.125,"e":0.03},{"p":"hg","x":0.33,"y":-0.14,"e":0.03},{"p":"hg","x":0.36,"y":-0.165,"e":0.03},{"p":"hg","x":0.385,"y":-0.195,"e":0.025},{"p":"hg","x":0.41,"y":-0.232,"e":0.037},{"p":"hg","x":0.454,"y":-0.275,"e":0.058}
]
},
"concat": [
{
  "width": 348, "height": 247,
  "resolve": {"axis": {"x": "independent", "y": "independent"}},
  "layer": [
    {"data": {"name": "labels"}, "transform": [{"filter": "datum.p == 'sc'"}],
     "mark": {"type": "rule", "strokeDash": [8, 5], "color": "#333", "strokeWidth": 1},
     "encoding": {"x": {"datum": 0, "type": "quantitative", "axis": null, "scale": {"domain": [-0.928, 0.5], "nice": false, "zero": false}}}},
    {"data": {"name": "dash"}, "transform": [{"filter": "datum.p == 'sc'"}],
     "mark": {"type": "line", "strokeWidth": 1, "strokeDash": [8, 7], "clip": true},
     "encoding": {
       "x": {"field": "x", "type": "quantitative", "scale": {"domain": [-0.928, 0.5], "nice": false, "zero": false}, "axis": {"orient": "bottom", "values": [-0.9,-0.85,-0.75,-0.7,-0.65,-0.55,-0.5,-0.45,-0.35,-0.3,-0.25,-0.15,-0.1,-0.05,0.05,0.1,0.15,0.25,0.3,0.35,0.45], "tickSize": -4, "labels": false, "title": null}},
       "y": {"field": "y", "type": "quantitative", "scale": {"domain": [-0.99, 0.184], "nice": false, "zero": false}, "axis": {"orient": "left", "values": [-0.95,-0.9,-0.85,-0.75,-0.7,-0.65,-0.55,-0.5,-0.45,-0.35,-0.3,-0.25,-0.15,-0.1,-0.05,0.05,0.1,0.15], "tickSize": -4, "labels": false, "title": null}},
       "stroke": {"field": "m", "type": "nominal", "legend": null, "scale": {"domain": ["LB iso", "LB aniso", "MB iso", "MB aniso"], "range": ["#ff3030", "#ffa020", "#22ee88", "#1166e8"]}}
     }},
    {"data": {"name": "solid"}, "transform": [{"filter": "datum.p == 'sc'"}],
     "mark": {"type": "line", "strokeWidth": 2, "interpolate": "monotone", "clip": true},
     "encoding": {
       "x": {"field": "x", "type": "quantitative", "scale": {"domain": [-0.928, 0.5], "nice": false, "zero": false}, "axis": {"orient": "bottom", "values": [-0.8,-0.6,-0.4,-0.2,0,0.2,0.4], "tickSize": -8, "labels": false, "title": null}},
       "y": {"field": "y", "type": "quantitative", "scale": {"domain": [-0.99, 0.184], "nice": false, "zero": false}, "axis": {"orient": "left", "values": [-0.8,-0.6,-0.4,-0.2,0], "format": ".1f", "tickSize": -8, "labelPadding": 11, "labelFlush": false, "title": "log vᵣₘₛ/v₀", "titlePadding": 16}},
       "color": {"field": "m", "type": "nominal", "scale": {"domain": ["LB iso", "LB aniso", "MB iso", "MB aniso"], "range": ["#ff3030", "#ffa020", "#22ee88", "#1166e8"]},
         "legend": {"orient": "none", "legendX": 30, "legendY": 168, "title": null, "padding": 0, "labelFontSize": 15, "labelColor": "#666", "labelFont": "DejaVu Sans", "symbolType": "stroke", "symbolSize": 841, "symbolStrokeWidth": 2.5, "clipHeight": 15, "rowPadding": 1.7, "labelOffset": 5}}
     }},
    {"data": {"name": "err"}, "transform": [{"filter": "datum.p == 'sc'"}],
     "mark": {"type": "errorbar", "color": "#222", "thickness": 1, "ticks": {"size": 5, "color": "#222"}},
     "encoding": {
       "x": {"field": "x", "type": "quantitative", "scale": {"domain": [-0.928, 0.5], "nice": false, "zero": false}, "axis": {"orient": "top", "values": [-0.8,-0.6,-0.4,-0.2,0,0.2,0.4], "tickSize": -8, "labels": false, "title": null}},
       "y": {"field": "y", "type": "quantitative", "scale": {"domain": [-0.99, 0.184], "nice": false, "zero": false}, "axis": {"orient": "right", "values": [-0.8,-0.6,-0.4,-0.2,0], "tickSize": -8, "labels": false, "title": null}},
       "yError": {"field": "e"}
     }},
    {"data": {"name": "labels"}, "transform": [{"filter": "datum.p == 'sc'"}],
     "mark": {"type": "text", "align": "left", "baseline": "alphabetic", "fontSize": 14, "font": "DejaVu Sans", "color": "#666", "lineHeight": 16.5, "lineBreak": "\n"},
     "encoding": {
       "x": {"datum": -0.805, "type": "quantitative", "scale": {"domain": [-0.928, 0.5], "nice": false, "zero": false}, "axis": {"orient": "top", "values": [-0.9,-0.85,-0.75,-0.7,-0.65,-0.55,-0.5,-0.45,-0.35,-0.3,-0.25,-0.15,-0.1,-0.05,0.05,0.1,0.15,0.25,0.3,0.35,0.45], "tickSize": -4, "labels": false, "title": null}},
       "y": {"datum": -0.52, "type": "quantitative", "scale": {"domain": [-0.99, 0.184], "nice": false, "zero": false}, "axis": {"orient": "right", "values": [-0.95,-0.9,-0.85,-0.75,-0.7,-0.65,-0.55,-0.5,-0.45,-0.35,-0.3,-0.25,-0.15,-0.1,-0.05,0.05,0.1,0.15], "tickSize": -4, "labels": false, "title": null}},
       "text": {"field": "t"}
     }}
  ]
},
{
  "width": 348, "height": 247,
  "resolve": {"axis": {"x": "independent", "y": "independent"}},
  "layer": [
    {"data": {"name": "labels"}, "transform": [{"filter": "datum.p == 'hc'"}],
     "mark": {"type": "rule", "strokeDash": [8, 5], "color": "#333", "strokeWidth": 1},
     "encoding": {"x": {"datum": 0, "type": "quantitative", "axis": null, "scale": {"domain": [-0.928, 0.5], "nice": false, "zero": false}}}},
    {"data": {"name": "dash"}, "transform": [{"filter": "datum.p == 'hc'"}],
     "mark": {"type": "line", "strokeWidth": 1, "strokeDash": [8, 7], "clip": true},
     "encoding": {
       "x": {"field": "x", "type": "quantitative", "scale": {"domain": [-0.928, 0.5], "nice": false, "zero": false}, "axis": {"orient": "bottom", "values": [-0.9,-0.85,-0.75,-0.7,-0.65,-0.55,-0.5,-0.45,-0.35,-0.3,-0.25,-0.15,-0.1,-0.05,0.05,0.1,0.15,0.25,0.3,0.35,0.45], "tickSize": -4, "labels": false, "title": null}},
       "y": {"field": "y", "type": "quantitative", "scale": {"domain": [-0.99, 0.184], "nice": false, "zero": false}, "axis": {"orient": "left", "values": [-0.95,-0.9,-0.85,-0.75,-0.7,-0.65,-0.55,-0.5,-0.45,-0.35,-0.3,-0.25,-0.15,-0.1,-0.05,0.05,0.1,0.15], "tickSize": -4, "labels": false, "title": null}},
       "stroke": {"field": "m", "type": "nominal", "legend": null, "scale": {"domain": ["LB iso", "LB aniso", "MB iso", "MB aniso"], "range": ["#ff3030", "#ffa020", "#22ee88", "#1166e8"]}}
     }},
    {"data": {"name": "solid"}, "transform": [{"filter": "datum.p == 'hc'"}],
     "mark": {"type": "line", "strokeWidth": 2, "interpolate": "monotone", "clip": true},
     "encoding": {
       "x": {"field": "x", "type": "quantitative", "scale": {"domain": [-0.928, 0.5], "nice": false, "zero": false}, "axis": {"orient": "bottom", "values": [-0.8,-0.6,-0.4,-0.2,0,0.2,0.4], "tickSize": -8, "labels": false, "title": null}},
       "y": {"field": "y", "type": "quantitative", "scale": {"domain": [-0.99, 0.184], "nice": false, "zero": false}, "axis": {"orient": "left", "values": [-0.8,-0.6,-0.4,-0.2,0], "tickSize": -8, "labels": false, "title": null}},
       "color": {"field": "m", "type": "nominal", "legend": null, "scale": {"domain": ["LB iso", "LB aniso", "MB iso", "MB aniso"], "range": ["#ff3030", "#ffa020", "#22ee88", "#1166e8"]}}
     }},
    {"data": {"name": "err"}, "transform": [{"filter": "datum.p == 'hc'"}],
     "mark": {"type": "errorbar", "color": "#222", "thickness": 1, "ticks": {"size": 5, "color": "#222"}},
     "encoding": {
       "x": {"field": "x", "type": "quantitative", "scale": {"domain": [-0.928, 0.5], "nice": false, "zero": false}, "axis": {"orient": "top", "values": [-0.8,-0.6,-0.4,-0.2,0,0.2,0.4], "tickSize": -8, "labels": false, "title": null}},
       "y": {"field": "y", "type": "quantitative", "scale": {"domain": [-0.99, 0.184], "nice": false, "zero": false}, "axis": {"orient": "right", "values": [-0.8,-0.6,-0.4,-0.2,0], "tickSize": -8, "labels": false, "title": null}},
       "yError": {"field": "e"}
     }},
    {"data": {"name": "labels"}, "transform": [{"filter": "datum.p == 'hc'"}],
     "mark": {"type": "text", "align": "left", "baseline": "alphabetic", "fontSize": 14, "font": "DejaVu Sans", "color": "#666", "lineHeight": 16.5, "lineBreak": "\n"},
     "encoding": {
       "x": {"datum": -0.808, "type": "quantitative", "scale": {"domain": [-0.928, 0.5], "nice": false, "zero": false}, "axis": {"orient": "top", "values": [-0.9,-0.85,-0.75,-0.7,-0.65,-0.55,-0.5,-0.45,-0.35,-0.3,-0.25,-0.15,-0.1,-0.05,0.05,0.1,0.15,0.25,0.3,0.35,0.45], "tickSize": -4, "labels": false, "title": null}},
       "y": {"datum": -0.52, "type": "quantitative", "scale": {"domain": [-0.99, 0.184], "nice": false, "zero": false}, "axis": {"orient": "right", "values": [-0.95,-0.9,-0.85,-0.75,-0.7,-0.65,-0.55,-0.5,-0.45,-0.35,-0.3,-0.25,-0.15,-0.1,-0.05,0.05,0.1,0.15], "tickSize": -4, "labels": false, "title": null}},
       "text": {"field": "t"}
     }}
  ]
},
{
  "width": 348, "height": 247,
  "resolve": {"axis": {"x": "independent", "y": "independent"}},
  "layer": [
    {"data": {"name": "labels"}, "transform": [{"filter": "datum.p == 'sg'"}],
     "mark": {"type": "rule", "strokeDash": [8, 5], "color": "#333", "strokeWidth": 1},
     "encoding": {"x": {"datum": 0, "type": "quantitative", "axis": null, "scale": {"domain": [-0.928, 0.5], "nice": false, "zero": false}}}},
    {"data": {"name": "dash"}, "transform": [{"filter": "datum.p == 'sg'"}],
     "mark": {"type": "line", "strokeWidth": 1, "strokeDash": [8, 7], "clip": true},
     "encoding": {
       "x": {"field": "x", "type": "quantitative", "scale": {"domain": [-0.928, 0.5], "nice": false, "zero": false}, "axis": {"orient": "bottom", "values": [-0.9,-0.85,-0.75,-0.7,-0.65,-0.55,-0.5,-0.45,-0.35,-0.3,-0.25,-0.15,-0.1,-0.05,0.05,0.1,0.15,0.25,0.3,0.35,0.45], "tickSize": -4, "labels": false, "title": null}},
       "y": {"field": "y", "type": "quantitative", "scale": {"domain": [-0.98, 0.195], "nice": false, "zero": false}, "axis": {"orient": "left", "values": [-0.95,-0.9,-0.85,-0.75,-0.7,-0.65,-0.55,-0.5,-0.45,-0.35,-0.3,-0.25,-0.15,-0.1,-0.05,0.05,0.1,0.15], "tickSize": -4, "labels": false, "title": null}},
       "stroke": {"field": "m", "type": "nominal", "legend": null, "scale": {"domain": ["LB iso", "LB aniso", "MB iso", "MB aniso"], "range": ["#ff3030", "#ffa020", "#22ee88", "#1166e8"]}}
     }},
    {"data": {"name": "solid"}, "transform": [{"filter": "datum.p == 'sg'"}],
     "mark": {"type": "line", "strokeWidth": 2, "interpolate": "monotone", "clip": true},
     "encoding": {
       "x": {"field": "x", "type": "quantitative", "scale": {"domain": [-0.928, 0.5], "nice": false, "zero": false}, "axis": {"orient": "bottom", "values": [-0.8,-0.6,-0.4,-0.2,0,0.2,0.4], "format": ".1f", "tickSize": -8, "labelPadding": 18, "labelFlush": false, "labelOverlap": false, "title": "log r/rₕₐₗf", "titlePadding": 6}},
       "y": {"field": "y", "type": "quantitative", "scale": {"domain": [-0.98, 0.195], "nice": false, "zero": false}, "axis": {"orient": "left", "values": [-0.8,-0.6,-0.4,-0.2,0], "format": ".1f", "tickSize": -8, "labelPadding": 11, "labelFlush": false, "title": "log vᵣₘₛ/v₀", "titlePadding": 16}},
       "color": {"field": "m", "type": "nominal", "legend": null, "scale": {"domain": ["LB iso", "LB aniso", "MB iso", "MB aniso"], "range": ["#ff3030", "#ffa020", "#22ee88", "#1166e8"]}}
     }},
    {"data": {"name": "err"}, "transform": [{"filter": "datum.p == 'sg'"}],
     "mark": {"type": "errorbar", "color": "#222", "thickness": 1, "ticks": {"size": 5, "color": "#222"}},
     "encoding": {
       "x": {"field": "x", "type": "quantitative", "scale": {"domain": [-0.928, 0.5], "nice": false, "zero": false}, "axis": {"orient": "top", "values": [-0.8,-0.6,-0.4,-0.2,0,0.2,0.4], "tickSize": -8, "labels": false, "title": null}},
       "y": {"field": "y", "type": "quantitative", "scale": {"domain": [-0.98, 0.195], "nice": false, "zero": false}, "axis": {"orient": "right", "values": [-0.8,-0.6,-0.4,-0.2,0], "tickSize": -8, "labels": false, "title": null}},
       "yError": {"field": "e"}
     }},
    {"data": {"name": "labels"}, "transform": [{"filter": "datum.p == 'sg'"}],
     "mark": {"type": "text", "align": "left", "baseline": "alphabetic", "fontSize": 14, "font": "DejaVu Sans", "color": "#666", "lineHeight": 16.5, "lineBreak": "\n"},
     "encoding": {
       "x": {"datum": -0.805, "type": "quantitative", "scale": {"domain": [-0.928, 0.5], "nice": false, "zero": false}, "axis": {"orient": "top", "values": [-0.9,-0.85,-0.75,-0.7,-0.65,-0.55,-0.5,-0.45,-0.35,-0.3,-0.25,-0.15,-0.1,-0.05,0.05,0.1,0.15,0.25,0.3,0.35,0.45], "tickSize": -4, "labels": false, "title": null}},
       "y": {"datum": -0.51, "type": "quantitative", "scale": {"domain": [-0.98, 0.195], "nice": false, "zero": false}, "axis": {"orient": "right", "values": [-0.95,-0.9,-0.85,-0.75,-0.7,-0.65,-0.55,-0.5,-0.45,-0.35,-0.3,-0.25,-0.15,-0.1,-0.05,0.05,0.1,0.15], "tickSize": -4, "labels": false, "title": null}},
       "text": {"field": "t"}
     }}
  ]
},
{
  "width": 348, "height": 247,
  "resolve": {"axis": {"x": "independent", "y": "independent"}},
  "layer": [
    {"data": {"name": "labels"}, "transform": [{"filter": "datum.p == 'hg'"}],
     "mark": {"type": "rule", "strokeDash": [8, 5], "color": "#333", "strokeWidth": 1},
     "encoding": {"x": {"datum": 0, "type": "quantitative", "axis": null, "scale": {"domain": [-0.928, 0.5], "nice": false, "zero": false}}}},
    {"data": {"name": "dash"}, "transform": [{"filter": "datum.p == 'hg'"}],
     "mark": {"type": "line", "strokeWidth": 1, "strokeDash": [8, 7], "clip": true},
     "encoding": {
       "x": {"field": "x", "type": "quantitative", "scale": {"domain": [-0.928, 0.5], "nice": false, "zero": false}, "axis": {"orient": "bottom", "values": [-0.9,-0.85,-0.75,-0.7,-0.65,-0.55,-0.5,-0.45,-0.35,-0.3,-0.25,-0.15,-0.1,-0.05,0.05,0.1,0.15,0.25,0.3,0.35,0.45], "tickSize": -4, "labels": false, "title": null}},
       "y": {"field": "y", "type": "quantitative", "scale": {"domain": [-0.98, 0.195], "nice": false, "zero": false}, "axis": {"orient": "left", "values": [-0.95,-0.9,-0.85,-0.75,-0.7,-0.65,-0.55,-0.5,-0.45,-0.35,-0.3,-0.25,-0.15,-0.1,-0.05,0.05,0.1,0.15], "tickSize": -4, "labels": false, "title": null}},
       "stroke": {"field": "m", "type": "nominal", "legend": null, "scale": {"domain": ["LB iso", "LB aniso", "MB iso", "MB aniso"], "range": ["#ff3030", "#ffa020", "#22ee88", "#1166e8"]}}
     }},
    {"data": {"name": "solid"}, "transform": [{"filter": "datum.p == 'hg'"}],
     "mark": {"type": "line", "strokeWidth": 2, "interpolate": "monotone", "clip": true},
     "encoding": {
       "x": {"field": "x", "type": "quantitative", "scale": {"domain": [-0.928, 0.5], "nice": false, "zero": false}, "axis": {"orient": "bottom", "values": [-0.8,-0.6,-0.4,-0.2,0,0.2,0.4], "format": ".1f", "tickSize": -8, "labelPadding": 18, "labelFlush": false, "labelOverlap": false, "title": "log r/rₕₐₗf", "titlePadding": 6}},
       "y": {"field": "y", "type": "quantitative", "scale": {"domain": [-0.98, 0.195], "nice": false, "zero": false}, "axis": {"orient": "left", "values": [-0.8,-0.6,-0.4,-0.2,0], "tickSize": -8, "labels": false, "title": null}},
       "color": {"field": "m", "type": "nominal", "legend": null, "scale": {"domain": ["LB iso", "LB aniso", "MB iso", "MB aniso"], "range": ["#ff3030", "#ffa020", "#22ee88", "#1166e8"]}}
     }},
    {"data": {"name": "err"}, "transform": [{"filter": "datum.p == 'hg'"}],
     "mark": {"type": "errorbar", "color": "#222", "thickness": 1, "ticks": {"size": 5, "color": "#222"}},
     "encoding": {
       "x": {"field": "x", "type": "quantitative", "scale": {"domain": [-0.928, 0.5], "nice": false, "zero": false}, "axis": {"orient": "top", "values": [-0.8,-0.6,-0.4,-0.2,0,0.2,0.4], "tickSize": -8, "labels": false, "title": null}},
       "y": {"field": "y", "type": "quantitative", "scale": {"domain": [-0.98, 0.195], "nice": false, "zero": false}, "axis": {"orient": "right", "values": [-0.8,-0.6,-0.4,-0.2,0], "tickSize": -8, "labels": false, "title": null}},
       "yError": {"field": "e"}
     }},
    {"data": {"name": "labels"}, "transform": [{"filter": "datum.p == 'hg'"}],
     "mark": {"type": "text", "align": "left", "baseline": "alphabetic", "fontSize": 14, "font": "DejaVu Sans", "color": "#666", "lineHeight": 16.5, "lineBreak": "\n"},
     "encoding": {
       "x": {"datum": -0.808, "type": "quantitative", "scale": {"domain": [-0.928, 0.5], "nice": false, "zero": false}, "axis": {"orient": "top", "values": [-0.9,-0.85,-0.75,-0.7,-0.65,-0.55,-0.5,-0.45,-0.35,-0.3,-0.25,-0.15,-0.1,-0.05,0.05,0.1,0.15,0.25,0.3,0.35,0.45], "tickSize": -4, "labels": false, "title": null}},
       "y": {"datum": -0.51, "type": "quantitative", "scale": {"domain": [-0.98, 0.195], "nice": false, "zero": false}, "axis": {"orient": "right", "values": [-0.95,-0.9,-0.85,-0.75,-0.7,-0.65,-0.55,-0.5,-0.45,-0.35,-0.3,-0.25,-0.15,-0.1,-0.05,0.05,0.1,0.15], "tickSize": -4, "labels": false, "title": null}},
       "text": {"field": "t"}
     }}
  ]
}
]
}
